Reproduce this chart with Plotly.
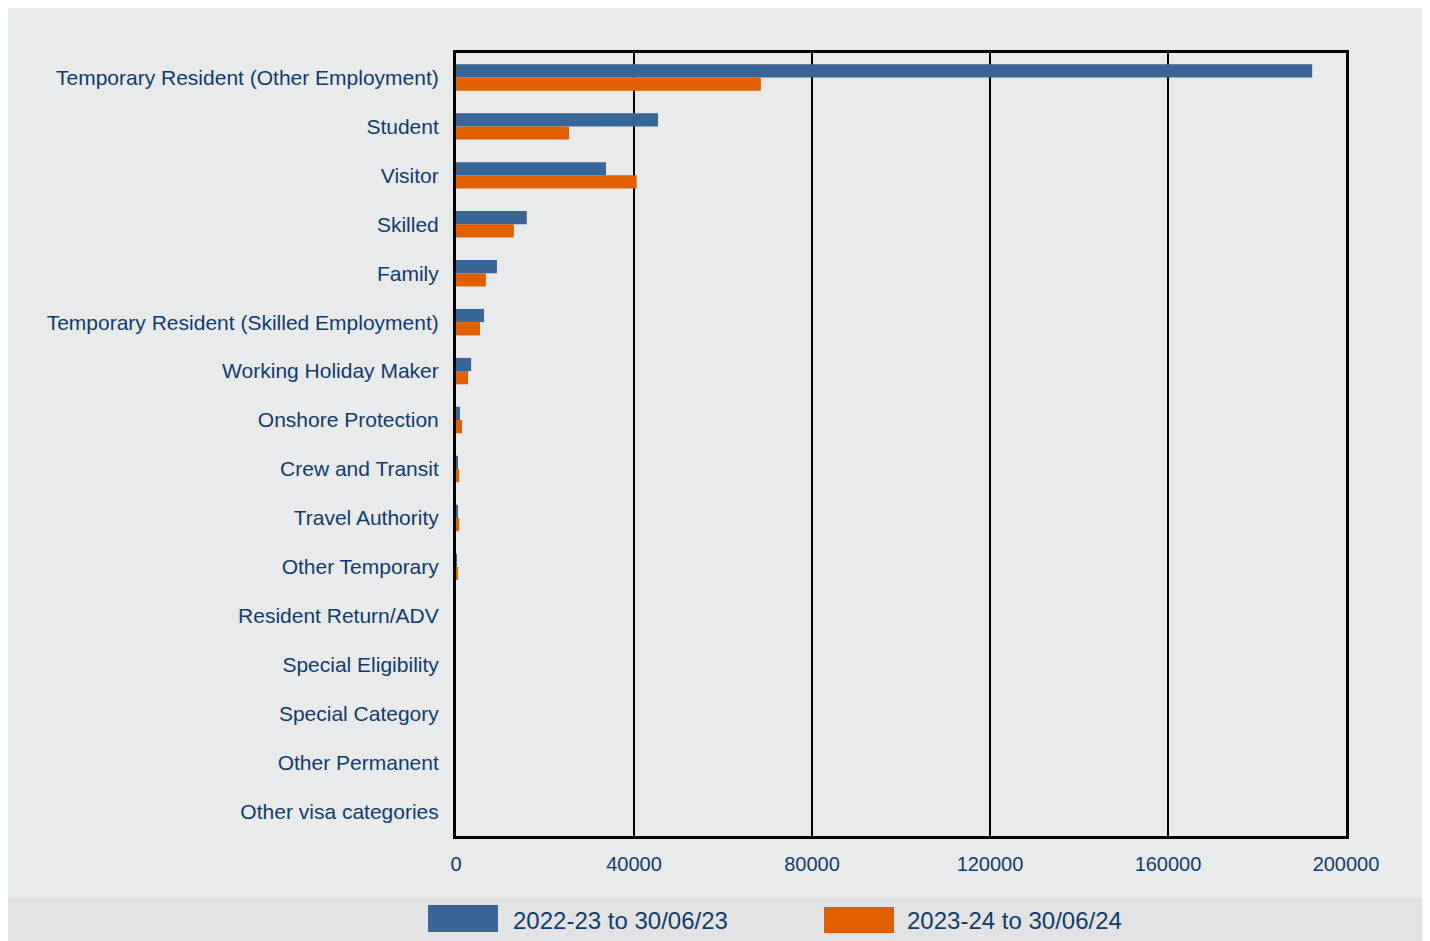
import plotly.graph_objects as go

categories = [
    "Temporary Resident (Other Employment)",
    "Student",
    "Visitor",
    "Skilled",
    "Family",
    "Temporary Resident (Skilled Employment)",
    "Working Holiday Maker",
    "Onshore Protection",
    "Crew and Transit",
    "Travel Authority",
    "Other Temporary",
    "Resident Return/ADV",
    "Special Eligibility",
    "Special Category",
    "Other Permanent",
    "Other visa categories",
]
series_2223 = [192400, 45400, 33700, 15900, 9200, 6300, 3400, 900, 250, 300, 200, 0, 0, 0, 0, 0]
series_2324 = [68500, 25400, 40600, 13000, 6700, 5400, 2700, 1350, 700, 700, 350, 0, 0, 0, 0, 0]
name_2223 = "2022-23 to 30/06/23"
name_2324 = "2023-24 to 30/06/24"
x_ticks = [0, 40000, 80000, 120000, 160000, 200000]

BLUE = "#386496"
ORANGE = "#E06000"
TEXT = "#0E3C6E"
PANEL = "#E9EAEC"
BAND = "#E3E3E5"
FONT = "Liberation Sans, Arial"

# figure is placed at (8, 8) in the page by the body margin
W, H = 1418, 933
L, R, T, B = 448, 1338, 45, 828


def px(x):
    return (x - L) / (R - L)


def py(y):
    return (B - y) / (B - T)


fig = go.Figure()
fig.add_trace(go.Bar(y=categories, x=series_2223, orientation="h", name=name_2223,
                     marker=dict(color=BLUE, line=dict(width=0))))
fig.add_trace(go.Bar(y=categories, x=series_2324, orientation="h", name=name_2324,
                     marker=dict(color=ORANGE, line=dict(width=0))))

shapes = [
    # legend band
    dict(type="rect", xref="paper", yref="paper", x0=px(0), x1=px(W), y0=py(H), y1=py(890),
         fillcolor=BAND, line=dict(width=0), layer="below"),
    # legend swatches
    dict(type="rect", xref="paper", yref="paper", x0=px(420), x1=px(490), y0=py(924), y1=py(897),
         fillcolor=BLUE, line=dict(width=0)),
    dict(type="rect", xref="paper", yref="paper", x0=px(816), x1=px(886), y0=py(925), y1=py(899),
         fillcolor=ORANGE, line=dict(width=0)),
]

annotations = [
    dict(xref="paper", yref="paper", x=px(503), y=py(912), text=name_2223, showarrow=False,
         xanchor="left", yanchor="middle", font=dict(size=24, color=TEXT, family=FONT)),
    dict(xref="paper", yref="paper", x=px(897), y=py(912), text=name_2324, showarrow=False,
         xanchor="left", yanchor="middle", font=dict(size=24, color=TEXT, family=FONT)),
]

fig.update_layout(
    width=W, height=H,
    margin=dict(l=L, r=W - R, t=T, b=H - B, pad=0),
    paper_bgcolor=PANEL,
    plot_bgcolor=PANEL,
    barmode="group",
    bargap=0.46,
    bargroupgap=0.0,
    showlegend=False,
    font=dict(family=FONT, color=TEXT),
    shapes=shapes,
    annotations=annotations,
    xaxis=dict(
        range=[0, 200000], tickvals=x_ticks, ticktext=[str(v) for v in x_ticks],
        showgrid=True, gridcolor="black", gridwidth=1.6,
        showline=True, linecolor="black", linewidth=2.5, mirror=True,
        zeroline=False, ticks="", tickfont=dict(size=20, color=TEXT),
        ticklabelstandoff=8,
    ),
    yaxis=dict(
        autorange="reversed", type="category",
        showgrid=False, showline=True, linecolor="black", linewidth=3, mirror=True,
        ticks="", tickfont=dict(size=21, color=TEXT), ticklabelstandoff=10,
    ),
)

fig.write_html("out.html")
